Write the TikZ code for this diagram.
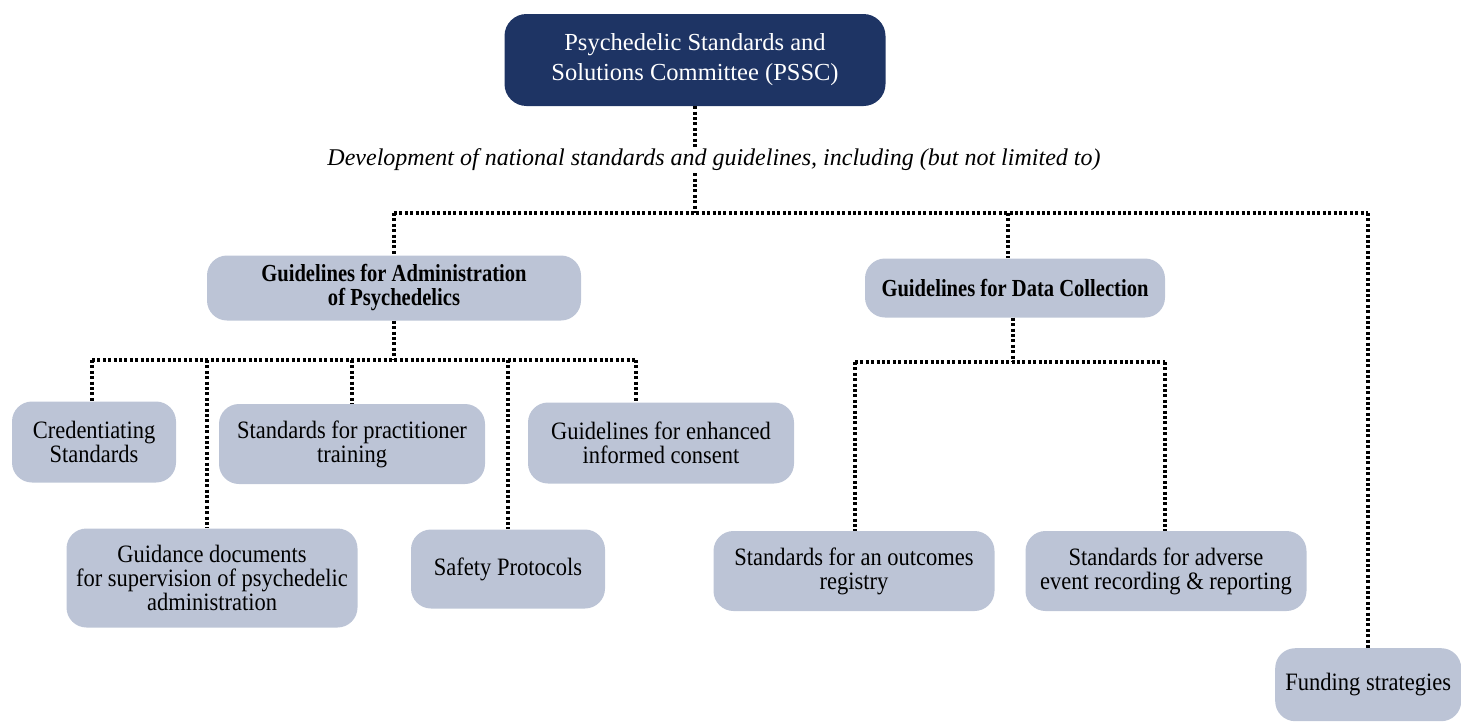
\documentclass[tikz,border=0pt]{standalone}
\usepackage{fontspec}
\setmainfont{Liberation Serif}
\newfontfamily\bodyfont[FakeStretch=0.9]{Liberation Serif}
\newfontfamily\headfont[FakeStretch=0.84]{Liberation Serif}
\definecolor{navy}{RGB}{30,52,100}
\definecolor{boxfill}{RGB}{188,196,214}
\begin{document}
\begin{tikzpicture}[x=1pt,y=-1pt,
  box/.style={fill=boxfill, rounded corners=20pt, align=center, inner sep=0pt,
    font=\bodyfont\fontsize{25}{24}\selectfont, text=black},
  headbox/.style={box, font=\headfont\bfseries\fontsize{24.5}{24}\selectfont},
  conn/.style={line width=3.2pt, dash pattern=on 3pt off 2.4pt, black}]
\useasboundingbox (0,0) rectangle (1461,723);

% top committee
\node[fill=navy, rounded corners=22pt, minimum width=381pt, minimum height=92pt,
      align=center, text=white, font=\fontsize{24.5}{30}\selectfont] (pssc) at (695,60)
  {Psychedelic Standards and\\Solutions Committee (PSSC)};

\node[font=\itshape\fontsize{24}{28}\selectfont, inner sep=2pt] (scope) at (714,160)
  {Development of national standards and guidelines, including (but not limited to)};

% second level
\node[headbox, minimum width=374pt, minimum height=65pt] (admin) at (394,288)
  {Guidelines for Administration\\of Psychedelics};
\node[headbox, minimum width=300pt, minimum height=59pt] (data) at (1015,288)
  {Guidelines for Data Collection};
\node[box, minimum width=186pt, minimum height=73pt, anchor=north west] (fund) at (1275,648)
  {Funding strategies};

% administration branch
\node[box, minimum width=164pt, minimum height=81pt] (cred) at (94,442)
  {Credentiating\\Standards};
\node[box, minimum width=266pt, minimum height=80pt] (train) at (352,444)
  {Standards for practitioner\\training};
\node[box, minimum width=266pt, minimum height=81pt] (consent) at (661,443)
  {Guidelines for enhanced\\informed consent};
\node[box, minimum width=291pt, minimum height=99pt] (superv) at (212,578)
  {Guidance documents\\for supervision of psychedelic\\administration};
\node[box, minimum width=194pt, minimum height=79pt] (safety) at (508,569)
  {Safety Protocols};

% data collection branch
\node[box, minimum width=281pt, minimum height=80pt] (registry) at (854,571)
  {Standards for an outcomes\\registry};
\node[box, minimum width=281pt, minimum height=80pt] (adverse) at (1166,571)
  {Standards for adverse\\event recording \& reporting};

% junction points
\coordinate (topbar) at (695,213);
\coordinate (barL) at (394,213);
\coordinate (barR) at (1368,213);
\coordinate (adminbar) at (394,360);
\coordinate (aL) at (92,360);
\coordinate (aR) at (636,360);
\coordinate (datbar) at (1013,362);
\coordinate (dL) at (855,362);
\coordinate (dR) at (1165,362);

% connectors
\draw[conn] (pssc.south) -- (pssc.south |- scope.north);
\draw[conn] (pssc.south |- scope.south) -- (topbar);
\draw[conn] (barL) -- (barR);
\draw[conn] (barL) -- (admin.north);
\draw[conn] (1008,213) -- (data.north -| 1008,0);
\draw[conn] (barR) -- (fund.north -| barR);

\draw[conn] (admin.south) -- (adminbar);
\draw[conn] (aL) -- (aR);
\draw[conn] (aL) -- (cred.north -| aL);
\draw[conn] (207,360) -- (superv.north -| 207,0);
\draw[conn] (train.north |- aL) -- (train.north);
\draw[conn] (safety.north |- aL) -- (safety.north);
\draw[conn] (aR) -- (consent.north -| aR);

\draw[conn] (data.south -| datbar) -- (datbar);
\draw[conn] (dL) -- (dR);
\draw[conn] (dL) -- (registry.north -| dL);
\draw[conn] (dR) -- (adverse.north -| dR);
\end{tikzpicture}
\end{document}
